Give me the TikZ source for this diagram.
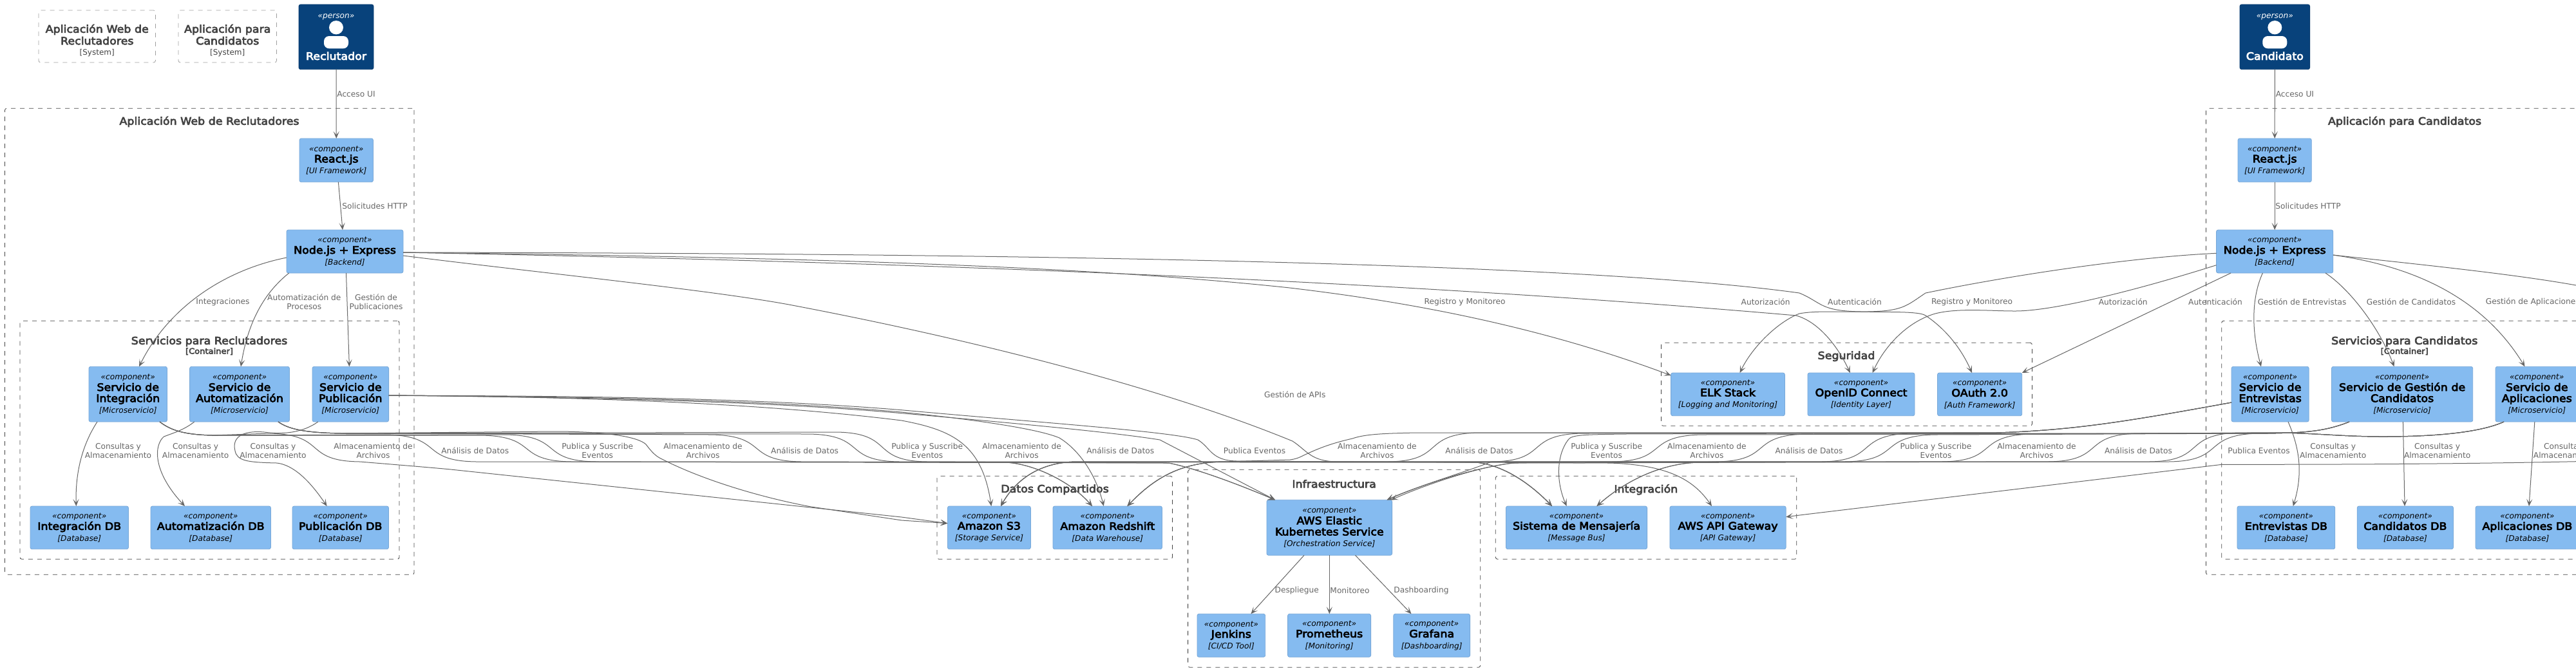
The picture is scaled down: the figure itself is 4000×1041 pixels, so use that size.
\documentclass[tikz,border=0pt]{standalone}
\usepackage{fontspec}
\setmainfont{DejaVu Sans}
\newfontfamily\hb[FakeBold=4.5,FakeStretch=1.09]{DejaVu Sans}
\usetikzlibrary{calc,arrows.meta}
\definecolor{compfill}{HTML}{85BBF0}
\definecolor{compline}{HTML}{78A8D8}
\definecolor{persfill}{HTML}{08427B}
\definecolor{persline}{HTML}{073B6F}
\definecolor{relgray}{HTML}{666666}
\definecolor{bnd}{HTML}{444444}
\tikzset{
  rel/.style={draw=relgray,line width=.5pt,-{Stealth[length=5.5pt,width=4.6pt,inset=2.8pt,color=relgray]}},
  lbl/.style={text=relgray,align=center,inner sep=0,font=\fontsize{6.1}{7}\selectfont},
  compbox/.style={draw=compline,fill=compfill,line width=.4pt,rounded corners=1.4pt,inner sep=0,outer sep=0,align=center,text=black,font=\fontsize{8}{8.6}\selectfont},
  persbox/.style={draw=persline,fill=persfill,line width=.4pt,rounded corners=1.4pt,inner sep=0,outer sep=0,align=center,text=white,font=\fontsize{8}{8.6}\selectfont},
  boundary/.style={draw=bnd,line width=.42pt,dash pattern=on 3.5pt off 3.5pt,rounded corners=1.5pt,fill=none,inner sep=0,outer sep=0},
  sysbox/.style={draw=gray!75,line width=.4pt,dash pattern=on 3.5pt off 3.5pt,rounded corners=1.5pt,fill=none,inner sep=0,outer sep=0},
  btitle/.style={text=bnd,align=center,inner sep=0,font=\fontsize{8}{9.2}\selectfont\hb},
  bsub/.style={text=bnd,align=center,inner sep=0,font=\fontsize{6}{7}\selectfont\hb},
}
\newcommand{\comp}[7]{\node[compbox,minimum width={(#4-#2)*0.5pt},minimum height={(#5-#3)*0.5pt}] (#1) at ({(#2+#4)/2},{(#3+#5)/2})
  {{\fontsize{6.1}{8.6}\selectfont\itshape «component»}\\\hb #6\\\fontsize{6.1}{8.6}\selectfont\itshape [#7]};}
\newcommand{\bound}[5]{\node[boundary,minimum width={(#4-#2)*0.5pt},minimum height={(#5-#3)*0.5pt}] (#1) at ({(#2+#4)/2},{(#3+#5)/2}) {};}
\newcommand{\pers}[4]{\node[persbox,minimum width={(#3-#2)*0.5pt},minimum height={(100.7)*0.5pt}] (#1) at ({(#2+#3)/2},57.3)
  {{\fontsize{6.1}{8.6}\selectfont\itshape «person»}\\[23.7pt]\hb #4};
  \fill[white] ({(#2+#3)/2},42.7) ellipse [x radius=11,y radius=10.7];
  \fill[white,rounded corners=4pt] ({(#2+#3)/2-19},75.3) -- ({(#2+#3)/2-19},56) -- ({(#2+#3)/2+19},56) -- ({(#2+#3)/2+19},75.3) -- cycle;}
\newcommand{\lab}[4]{\node[lbl] (#1) at (#2,#3) {#4};}
\newcommand{\crossL}[4]{\draw[rel] #1 -- ({#2-70},#3) .. controls ({#2+20},{#3+2}) and ({#2-20},716) .. ({#2+70},717) #4;}
\newcommand{\crossR}[4]{\draw[rel] #1 -- ({#2+70},#3) .. controls ({#2-20},{#3+2}) and ({#2+20},716) .. ({#2-70},717) #4;}
\newcommand{\srcInt}{($(svcint.south west)+(110,0)$) .. controls (265,668) and (285,675) .. (330,676)}
\newcommand{\srcAut}{($(svcaut.south west)+(137.4,0)$) .. controls (450,668) and (480,672) .. (530,673)}
\newcommand{\srcEnt}{($(svcent.north west)+(0,55.7)$) .. controls (3300,655) and (3220,668) .. (3100,672)}
\newcommand{\srcGes}{($(svcgest.south west)+(27.6,0)$) .. controls (3610,670) and (3580,672) .. (3520,673)}
\newcommand{\srcApl}{($(svcapl.south west)+(13,0)$) .. controls (3850,672) and (3780,678) .. (3700,678) .. controls (3640,678) and (3600,673) .. (3540,672)}
\newcommand{\toRed}{-- (1560,718) .. controls (1600,719) and (1660,745) .. ($(redshift.north west)+(61,0)$)}
\newcommand{\toEksL}{-- (1815,719) .. controls (1860,728) and (1930,755) .. ($(eks.north west)+(13,0)$)}
\newcommand{\toSisL}{-- (2292,718) .. controls (2330,722) and (2370,745) .. ($(sist.north west)+(71.6,0)$)}
\newcommand{\toSThree}{-- (1670,717) .. controls (1620,718) and (1580,740) .. ($(s3.north west)+(82.6,0)$)}
\newcommand{\toRedR}{-- (1900,717) .. controls (1830,718) and (1790,745) .. ($(redshift.north west)+(115.4,0)$)}
\newcommand{\toSisR}{-- (2640,718) .. controls (2576,719) and (2520,750) .. ($(sist.north west)+(141,0)$)}
\begin{document}
\begin{tikzpicture}[x=0.5pt,y=-0.5pt]
\useasboundingbox (0,0) rectangle (4000,1041);
\clip (0,0) rectangle (4000,1041);
\fill[white] (0,0) rectangle (4000,1041);
% system legend boxes
\node[sysbox,minimum width={181.5*0.5pt},minimum height={81*0.5pt}] (sysA) at (150.75,56.5) {};
\node[sysbox,minimum width={152.5*0.5pt},minimum height={81*0.5pt}] (sysB) at (353.25,56.5) {};
\node[btitle] (sysAt) at (150.75,63) {Aplicación Web de\\Reclutadores\\[-1pt]\normalfont\fontsize{6}{7}\selectfont [System]};
\node[btitle] (sysBt) at (353.25,63) {Aplicación para\\Candidatos\\[-1pt]\normalfont\fontsize{6}{7}\selectfont [System]};
% boundaries
\bound{outA}{7.5}{168.3}{643}{892.3}
\bound{inA}{31}{498.3}{620}{868.3}
\bound{datos}{1455}{739.3}{1820.5}{868.3}
\bound{infra}{1844.6}{729.3}{2298.7}{1036.3}
\bound{integ}{2322.3}{739.3}{2789.7}{868.3}
\bound{seg}{2579.5}{532.3}{3155.4}{661.3}
\bound{outB}{3425.4}{168.3}{4042.5}{892.3}
\bound{inB}{3449.7}{498.3}{4017.7}{868.3}
\node[btitle] (tOutA) at (325,189) {Aplicación Web de Reclutadores};
\node[btitle] (tInA) at (325,530.3) {Servicios para Reclutadores};
\node[bsub] (tInAs) at (325,545.7) {[Container]};
\node[btitle] (tDatos) at (1638,760.3) {Datos Compartidos};
\node[btitle] (tInfra) at (2071.6,751.3) {Infraestructura};
\node[btitle] (tInteg) at (2555.8,760.3) {Integración};
\node[btitle] (tSeg) at (2867,553.3) {Seguridad};
\node[btitle] (tOutB) at (3734,189) {Aplicación para Candidatos};
\node[btitle] (tInB) at (3733.7,530.3) {Servicios para Candidatos};
\node[bsub] (tInBs) at (3733.7,545.7) {[Container]};
% people
\pers{rec}{464}{580}{Reclutador}
\pers{cand}{3478}{3586.6}{Candidato}
% components
\comp{reactA}{465}{215}{579.5}{282.7}{React.js}{UI Framework}
\comp{nodeA}{445}{357}{626}{424}{Node.js + Express}{Backend}
\comp{svcint}{138}{569.3}{259.5}{655}{Servicio de\\\hb Integración}{Microservicio}
\comp{svcaut}{294.6}{569.3}{449.5}{655}{Servicio de\\\hb Automatización}{Microservicio}
\comp{svcpub}{485}{569.3}{603.6}{655}{Servicio de\\\hb Publicación}{Microservicio}
\comp{dbint}{47}{786}{199.5}{852.7}{Integración DB}{Database}
\comp{dbaut}{234}{786}{420.5}{852.7}{Automatización DB}{Database}
\comp{dbpub}{454}{786}{603.5}{852.7}{Publicación DB}{Database}
\comp{s3}{1471.4}{786}{1600.4}{852.7}{Amazon S3}{Storage Service}
\comp{redshift}{1635}{786}{1804.5}{852.7}{Amazon Redshift}{Data Warehouse}
\comp{eks}{1967}{776.3}{2161.6}{862.3}{AWS Elastic\\\hb Kubernetes Service}{Orchestration Service}
\comp{jenkins}{1859}{953.3}{1964.7}{1020.3}{Jenkins}{CI/CD Tool}
\comp{prom}{1999.6}{953.3}{2128.6}{1020.3}{Prometheus}{Monitoring}
\comp{grafana}{2163.8}{953.3}{2282.6}{1020.3}{Grafana}{Dashboarding}
\comp{sist}{2338.4}{786}{2557.6}{852.7}{Sistema de Mensajería}{Message Bus}
\comp{apigw}{2592.9}{786}{2773.2}{852.7}{AWS API Gateway}{API Gateway}
\comp{elk}{2594.6}{579}{2771.4}{645.7}{ELK Stack}{Logging and Monitoring}
\comp{openid}{2807}{579}{2973}{645.7}{OpenID Connect}{Identity Layer}
\comp{oauth}{3008.5}{579}{3139.7}{645.7}{OAuth 2.0}{Auth Framework}
\comp{reactB}{3475}{215}{3589.3}{282.7}{React.js}{UI Framework}
\comp{nodeB}{3441.5}{357}{3622.8}{424}{Node.js + Express}{Backend}
\comp{svcent}{3465}{569.3}{3585.2}{655}{Servicio de\\\hb Entrevistas}{Microservicio}
\comp{svcgest}{3620.4}{569.3}{3839.7}{655}{Servicio de Gestión de\\\hb Candidatos}{Microservicio}
\comp{svcapl}{3875}{569.3}{4003.4}{655}{Servicio de\\\hb Aplicaciones}{Microservicio}
\comp{dbent}{3473.9}{786}{3625.8}{852.7}{Entrevistas DB}{Database}
\comp{dbcan}{3660.2}{786}{3809.5}{852.7}{Candidatos DB}{Database}
\comp{dbapl}{3844}{786}{4004.7}{852.7}{Aplicaciones DB}{Database}
% simple connectors, recruiter side
\draw[rel] (rec.south) -- (reactA.north);
\draw[rel] ($(reactA.south west)+(60.4,0)$) -- ($(nodeA.north west)+(87,0)$);
\draw[rel] ($(nodeA.north west)+(0,43)$) .. controls (345,420) and (260,480) .. ($(svcint.north west)+(78,0)$);
\draw[rel] ($(nodeA.south west)+(3.7,0)$) .. controls (410,455) and (385,500) .. ($(svcaut.north west)+(79.4,0)$);
\draw[rel] ($(nodeA.south west)+(92.5,0)$) -- ($(svcpub.north west)+(57.4,0)$);
\draw[rel] ($(svcint.south west)+(13,0)$) .. controls (125,695) and (117,740) .. ($(dbint.north west)+(71.3,0)$);
\draw[rel] ($(svcaut.south west)+(7.2,0)$) .. controls (285,668) and (270,672) .. (254.5,678) .. controls (240,690) and (235,730) .. ($(dbaut.north west)+(53,0)$);
\draw[rel] ($(svcpub.south west)+(8.8,0)$) .. controls (470,672) and (440,675) .. (410,671) .. controls (375,668) and (360,680) .. (365,700) .. controls (368,716) and (385,718) .. (430,719) .. controls (455,722) and (480,745) .. ($(dbpub.north west)+(53.6,0)$);
% candidate side simple
\draw[rel] (cand.south) -- (reactB.north);
\draw[rel] (reactB.south) -- (nodeB.north);
\draw[rel] ($(nodeB.south west)+(71.9,0)$) .. controls (3497,460) and (3495,510) .. ($(svcent.north west)+(46,0)$);
\draw[rel] ($(nodeB.south west)+(169.5,0)$) .. controls (3650,450) and (3695,510) .. ($(svcgest.north west)+(97.2,0)$);
\draw[rel] ($(nodeB.north east)+(0,39)$) .. controls (3760,415) and (3860,470) .. ($(svcapl.north west)+(45.5,0)$);
\draw[rel] ($(svcent.south west)+(88,0)$) .. controls (3568,690) and (3578,730) .. ($(dbent.north west)+(86.8,0)$);
\draw[rel] ($(svcgest.south west)+(111,0)$) -- ($(dbcan.north west)+(73.8,0)$);
\draw[rel] ($(svcapl.south west)+(60.8,0)$) -- ($(dbapl.north west)+(83,0)$);
% security
\draw[rel] ($(nodeB.north west)+(0,36.3)$) .. controls (3300,400) and (3110,430) .. (2990,455) .. controls (2960,475) and (2955,483) .. (2900,484) .. controls (2860,485) and (2820,482) .. (2794,487) .. controls (2760,500) and (2720,540) .. ($(elk.north west)+(107,0)$);
\draw[rel] ($(nodeB.north west)+(0,54.7)$) .. controls (3320,450) and (3190,483) .. (3129,483) .. controls (3090,483) and (3040,478) .. (3005,487) .. controls (2960,500) and (2925,540) .. ($(openid.north west)+(100.6,0)$);
\draw[rel] ($(nodeB.south west)+(22.5,0)$) -- (oauth.north east);
\draw[rel] ($(nodeA.north east)+(0,35)$) .. controls (1300,393) and (2400,400) .. (2794,455) .. controls (2830,470) and (2825,483) .. (2890,484) .. controls (2930,485) and (2980,483) .. (2990,490) .. controls (3020,510) and (3045,540) .. ($(oauth.north west)+(53.5,0)$);
\draw[rel] ($(nodeA.north east)+(0,35)$) .. controls (1300,405) and (2100,430) .. (2789,490) .. controls (2825,500) and (2855,540) .. ($(openid.north west)+(65.8,0)$);
\draw[rel] ($(nodeA.north east)+(0,35)$) .. controls (1300,400) and (1700,415) .. (2000,446.7) .. controls (2200,470) and (2400,510) .. ($(elk.north west)+(0,4)$);
% API gateway
\draw[rel] ($(nodeA.north east)+(0,40)$) .. controls (850,425) and (1100,450) .. (1225,473) .. controls (1500,525) and (1800,600) .. (2007,685) .. controls (2030,700) and (2035,716) .. (2075,717) -- (2500,719) .. controls (2590,722) and (2630,745) .. ($(apigw.north west)+(65.1,0)$);
\draw[rel] ($(nodeB.north east)+(0,39)$) .. controls (3750,410) and (3900,425) .. (4000,443) .. controls (4100,470) and (4100,700) .. (4000,716.7) .. controls (3800,721) and (3600,721.3) .. (3450,721.3) -- (2800,799.3) -- ($(apigw.north east)+(0,16.7)$);
% infrastructure
\draw[rel] ($(eks.south west)+(58,0)$) -- ($(jenkins.north west)+(83.4,0)$);
\draw[rel] ($(eks.south west)+(97.3,0)$) -- ($(prom.north west)+(64.7,0)$);
\draw[rel] ($(eks.south west)+(137.5,0)$) -- ($(grafana.north west)+(27.7,0)$);
% bundle from Servicio de Publicacion
\draw[rel] ($(svcpub.north east)+(0,44.7)$) .. controls (850,616) and (1150,622) .. (1400,653) .. controls (1480,668) and (1525,690) .. ($(s3.north west)+(67.9,0)$);
\draw[rel] ($(svcpub.north east)+(0,44.7)$) .. controls (850,616) and (1150,618) .. (1400,640) .. controls (1500,650) and (1610,665) .. (1645,680) .. controls (1670,695) and (1700,730) .. ($(redshift.north west)+(78.8,0)$);
\draw[rel] ($(svcpub.north east)+(0,44.7)$) .. controls (850,615) and (1150,616) .. (1400,636.7) .. controls (1600,655) and (1820,670) .. (1860,683) .. controls (1880,695) and (1880,715) .. (1920,716) \toSisL;
\draw[rel] ($(svcpub.north east)+(0,44.7)$) .. controls (850,617) and (1150,620) .. (1400,641.7) .. controls (1550,655) and (1720,670) .. (1801,683) -- ($(eks.north west)+(13,0)$);
% bundles from the other recruiter services
\crossL{\srcInt}{489}{673}{.. controls (620,722) and (680,727) .. (700,729) -- (1400,803) -- ($(s3.north west)+(0,26.7)$)}
\crossL{\srcInt}{670}{675}{\toRed}
\crossL{\srcInt}{818}{676}{\toEksL}
\crossL{\srcInt}{856}{675}{\toSisL}
\draw[rel] \srcAut -- (860,670) .. controls (940,670) and (990,678) .. (1003,690) .. controls (1012,702) and (1018,708) .. (1026,712) .. controls (1090,745) and (1180,772) .. (1258,786.7) -- (1400,808) -- ($(s3.north west)+(0,26.7)$);
\crossL{\srcAut}{1175}{675}{\toRed}
\crossL{\srcAut}{1327}{674}{\toSisL}
\crossL{\srcAut}{1370}{671}{\toEksL}
% bundles from candidate services
\draw[rel] \srcEnt -- (2200,672) .. controls (2150,673) and (2120,674) .. (2100,681) .. controls (2060,690) and (2040,700) .. (2025,706.7) .. controls (2015,712) and (2010,713) .. (2003,714) \toRedR;
\crossR{\srcEnt}{2225}{672}{\toSThree}
\crossR{\srcEnt}{2386}{673}{.. controls (2270,735) and (2200,755) .. ($(eks.north west)+(186.6,0)$)}
\draw[rel] \srcEnt -- (2520,674) .. controls (2460,675) and (2440,675) .. (2435,683) .. controls (2418,705) and (2415,745) .. ($(sist.north west)+(94.2,0)$);
\crossR{\srcGes}{2572}{675}{-- (2350,719) .. controls (2300,724) and (2220,750) .. ($(eks.north west)+(193,0)$)}
\crossR{\srcGes}{2734}{674}{\toSisR}
\crossR{\srcGes}{2898}{673}{\toSThree}
\crossR{\srcGes}{2934}{675}{\toRedR}
\crossR{\srcApl}{3085}{674}{\toSisR}
\crossR{\srcApl}{3250}{673}{-- (2350,719) .. controls (2290,726) and (2210,752) .. ($(eks.north west)+(186.6,0)$)}
\crossR{\srcApl}{3407}{672}{\toSThree}
\crossR{\srcApl}{3437}{673}{\toRedR}
% labels
\lab{l01}{553}{145.7}{Acceso UI}
\lab{l02}{582}{319.7}{Solicitudes HTTP}
\lab{l03}{346}{469}{Integraciones}
\lab{l04}{472.3}{468.7}{Automatización de\\Procesos}
\lab{l05}{584}{468.7}{Gestión de\\Publicaciones}
\lab{l06}{183.5}{699.7}{Consultas y\\Almacenamiento}
\lab{l07}{303.6}{699.7}{Consultas y\\Almacenamiento}
\lab{l08}{424}{699.7}{Consultas y\\Almacenamiento}
\lab{l09}{579.5}{699.7}{Almacenamiento de\\Archivos}
\lab{l10}{737.7}{699.7}{Análisis de Datos}
\lab{l11}{927.7}{699.7}{Publica y Suscribe\\Eventos}
\lab{l12}{1091.5}{699.7}{Almacenamiento de\\Archivos}
\lab{l13}{1249.6}{699.7}{Análisis de Datos}
\lab{l14}{1439.7}{699.7}{Publica y Suscribe\\Eventos}
\lab{l15}{1586.6}{699.7}{Almacenamiento de\\Archivos}
\lab{l16}{1739.7}{699.7}{Análisis de Datos}
\lab{l17}{1948}{699.7}{Publica Eventos}
\lab{l18}{2138.4}{699.7}{Almacenamiento de\\Archivos}
\lab{l19}{2296.9}{699.7}{Análisis de Datos}
\lab{l20}{2494.6}{699.7}{Publica y Suscribe\\Eventos}
\lab{l21}{2650.4}{699.7}{Almacenamiento de\\Archivos}
\lab{l22}{2809}{699.7}{Análisis de Datos}
\lab{l23}{3006}{699.7}{Publica y Suscribe\\Eventos}
\lab{l24}{3162.5}{699.7}{Almacenamiento de\\Archivos}
\lab{l25}{3320.5}{699.7}{Análisis de Datos}
\lab{l26}{3507.5}{699.7}{Publica Eventos}
\lab{l27}{2010.7}{612.7}{Gestión de APIs}
\lab{l28}{2274.6}{468.7}{Registro y Monitoreo}
\lab{l29}{2741.6}{468.7}{Autorización}
\lab{l30}{2880}{468.7}{Autenticación}
\lab{l31}{3062}{468.7}{Registro y Monitoreo}
\lab{l32}{3296.7}{468.7}{Autorización}
\lab{l33}{3440}{468.7}{Autenticación}
\lab{l34}{3574.6}{468.7}{Gestión de Entrevistas}
\lab{l35}{3744}{468.7}{Gestión de Candidatos}
\node[lbl,anchor=west] (l36) at (3859.4,468.7) {Gestión de Aplicaciones};
\lab{l37}{3563.4}{145.7}{Acceso UI}
\lab{l38}{3584}{319.7}{Solicitudes HTTP}
\lab{l39}{3622.7}{699.7}{Consultas y\\Almacenamiento}
\lab{l40}{3784.6}{699.7}{Consultas y\\Almacenamiento}
\lab{l41}{3985.5}{699.7}{Consultas y\\Almacenamiento}
\lab{l42}{2013.8}{916.7}{Despliegue}
\lab{l43}{2096}{916.7}{Monitoreo}
\lab{l44}{2207}{916.7}{Dashboarding}
\end{tikzpicture}
\end{document}
